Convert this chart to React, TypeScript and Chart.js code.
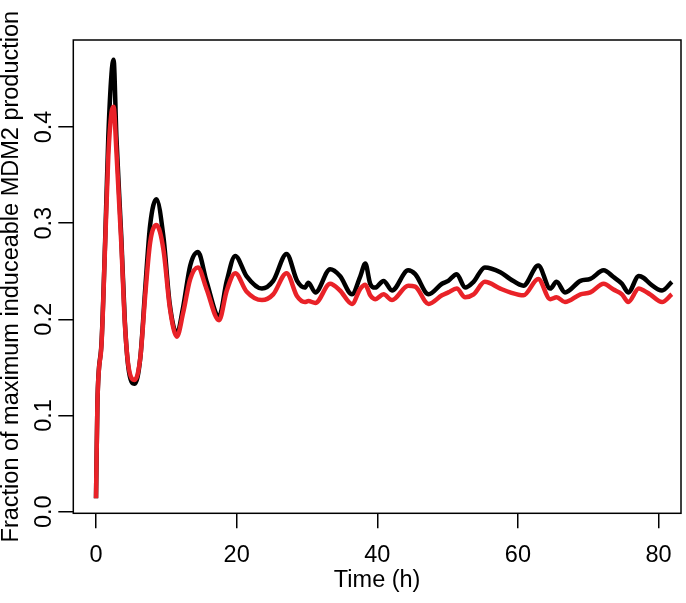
import React, { useRef, useEffect } from 'react';
import { Chart, registerables } from 'chart.js';

Chart.register(...registerables);

// time points (h)
const TIME = [
  0, 0.2, 0.8, 1.3, 1.75, 2.2, 2.5, 2.9, 3.6, 4.1, 4.6, 5.5, 6.3, 7.0, 7.7, 8.6,
  9.6, 10.5, 11.5, 12.4, 13.4, 14.5, 15.7, 17.5, 18.6, 19.8, 21.4, 23.6, 25.2,
  27.1, 28.6, 29.7, 30.2, 31.2, 33.3, 34.7, 36.4, 37.6, 38.3, 39.0, 39.7, 40.9,
  42.1, 44.4, 45.4, 47.3, 49.2, 50.1, 51.3, 52.5, 53.7, 55.3, 57.5, 58.9, 60.8,
  62.9, 64.6, 65.5, 66.7, 68.9, 70.3, 72.2, 73.6, 74.8, 75.7, 77.2, 77.9, 78.8,
  80.5, 81.9,
];

const BLACK_SERIES = [
  0.014, 0.113, 0.178, 0.282, 0.39, 0.455, 0.47, 0.39, 0.285, 0.198, 0.15, 0.133,
  0.16, 0.232, 0.298, 0.325, 0.285, 0.215, 0.185, 0.213, 0.256, 0.27, 0.24, 0.203,
  0.24, 0.266, 0.245, 0.232, 0.24, 0.268, 0.24, 0.233, 0.238, 0.228, 0.252, 0.245,
  0.226, 0.245, 0.258, 0.237, 0.233, 0.24, 0.23, 0.251, 0.247, 0.226, 0.237, 0.24,
  0.247, 0.233, 0.239, 0.254, 0.249, 0.242, 0.235, 0.256, 0.232, 0.239, 0.228,
  0.24, 0.242, 0.251, 0.244, 0.237, 0.228, 0.245, 0.243, 0.237, 0.23, 0.239,
];

const RED_SERIES = [
  0.014, 0.113, 0.176, 0.278, 0.37, 0.415, 0.421, 0.375, 0.278, 0.196, 0.152, 0.137,
  0.16, 0.225, 0.28, 0.298, 0.272, 0.212, 0.182, 0.207, 0.242, 0.254, 0.232, 0.199,
  0.23, 0.248, 0.229, 0.22, 0.226, 0.248, 0.224, 0.218, 0.219, 0.217, 0.237, 0.23,
  0.216, 0.232, 0.236, 0.225, 0.221, 0.226, 0.22, 0.235, 0.234, 0.216, 0.225, 0.228,
  0.232, 0.223, 0.226, 0.239, 0.232, 0.228, 0.225, 0.242, 0.221, 0.223, 0.218,
  0.226, 0.228, 0.237, 0.231, 0.226, 0.218, 0.232, 0.23, 0.226, 0.218, 0.226,
];

const X_TICKS = [0, 20, 40, 60, 80];
const Y_TICKS = [0, 0.1, 0.2, 0.3, 0.4];

const FONT = '"Liberation Sans", Arial, Helvetica, sans-serif';
const FONT_SIZE = 23.5;

// R-style box around the plotting region
const boxPlugin = {
  id: 'box',
  afterDraw(chart: Chart) {
    const { ctx, chartArea: a } = chart;
    ctx.save();
    ctx.strokeStyle = '#000';
    ctx.lineWidth = 1.5;
    ctx.strokeRect(a.left, a.top, a.right - a.left, a.bottom - a.top);
    ctx.restore();
  },
};

export default function App() {
  const canvasRef = useRef<HTMLCanvasElement>(null);
  const chartRef = useRef<Chart | null>(null);

  useEffect(() => {
    const canvas = canvasRef.current;
    if (!canvas) return;

    const toPoints = (ys: number[]) => TIME.map((t, i) => ({ x: t, y: ys[i] }));

    chartRef.current = new Chart(canvas, {
      type: 'line',
      data: {
        datasets: [
          {
            label: 'red',
            data: toPoints(RED_SERIES),
            borderColor: '#e92228',
            borderWidth: 4.5,
            pointRadius: 0,
            cubicInterpolationMode: 'monotone',
          },
          {
            label: 'black',
            data: toPoints(BLACK_SERIES),
            borderColor: '#000',
            borderWidth: 4.5,
            pointRadius: 0,
            cubicInterpolationMode: 'monotone',
          },
        ],
      },
      options: {
        animation: false,
        responsive: true,
        maintainAspectRatio: false,
        layout: { padding: { top: 40, right: 5, left: 0, bottom: 0 } },
        plugins: { legend: { display: false }, tooltip: { enabled: false } },
        scales: {
          x: {
            type: 'linear',
            min: -3.23,
            max: 83.2,
            afterBuildTicks: s => { s.ticks = X_TICKS.map(v => ({ value: v })); },
            afterFit: s => { s.height = 89.7; },
            border: { display: false },
            grid: { drawOnChartArea: false, drawTicks: true, tickLength: 15, color: '#000', lineWidth: 1.5 },
            ticks: { color: '#000', padding: 13, maxRotation: 0, font: { family: FONT, size: FONT_SIZE } },
            title: {
              display: true,
              text: 'Time (h)',
              color: '#000',
              font: { family: FONT, size: FONT_SIZE, lineHeight: 1 },
              padding: { top: 0, bottom: 11 },
            },
          },
          y: {
            min: -0.0017,
            max: 0.4905,
            afterBuildTicks: s => { s.ticks = Y_TICKS.map(v => ({ value: v })); },
            afterFit: s => { s.width = 73.3; },
            border: { display: false },
            grid: { drawOnChartArea: false, drawTicks: true, tickLength: 15, color: '#000', lineWidth: 1.5 },
            ticks: {
              color: '#000',
              padding: -3,
              crossAlign: 'center',
              minRotation: 90,
              maxRotation: 90,
              font: { family: FONT, size: FONT_SIZE },
              callback: v => Number(v).toFixed(1),
            },
            title: {
              display: true,
              text: 'Fraction of maximum induceable MDM2 production',
              color: '#000',
              font: { family: FONT, size: FONT_SIZE, lineHeight: 1 },
              padding: { top: 0, bottom: 0 },
            },
          },
        },
      },
      plugins: [boxPlugin],
    });

    return () => {
      chartRef.current?.destroy();
      chartRef.current = null;
    };
  }, []);

  return (
    <div style={{ position: 'fixed', left: 0, top: 0, width: 686, height: 603, background: '#fff' }}>
      <canvas ref={canvasRef} />
    </div>
  );
}
